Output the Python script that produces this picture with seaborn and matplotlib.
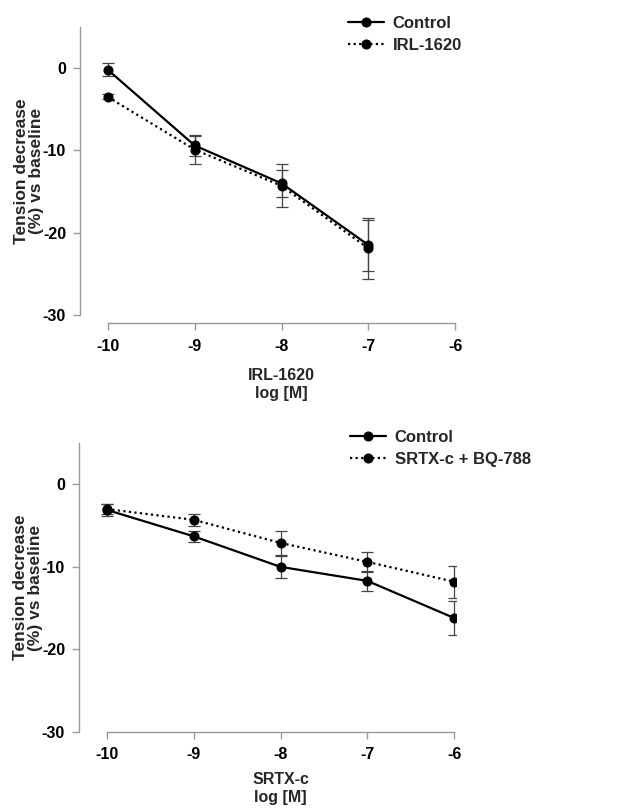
import numpy as np
import pandas as pd
import seaborn as sns
import matplotlib.pyplot as plt

# log concentrations
conc_irl = [-10, -9, -8, -7]
conc_srtx = [-10, -9, -8, -7, -6]

# panel A: IRL-1620
ctrl_a = [-0.2, -9.4, -14.0, -21.5]
ctrl_a_err = [0.8, 1.3, 1.6, 3.1]
irl_a = [-3.5, -9.9, -14.3, -21.9]
irl_a_err = [0.3, 1.7, 2.6, 3.7]

# panel B: SRTX-c
ctrl_b = [-3.1, -6.3, -10.0, -11.7, -16.2]
ctrl_b_err = [0.7, 0.7, 1.35, 1.25, 2.1]
bq_b = [-3.0, -4.3, -7.1, -9.4, -11.8]
bq_b_err = [0.6, 0.75, 1.5, 1.2, 1.95]

sns.set_style("ticks")
plt.rcParams['font.family'] = ['Liberation Sans', 'DejaVu Sans']
plt.rcParams['font.weight'] = 'bold'
plt.rcParams['axes.unicode_minus'] = False

fig = plt.figure(figsize=(6.18, 8.09), dpi=100)
W, H = 618, 809


def px_axes(left, top, right, bottom):
    return fig.add_axes([left / W, 1 - bottom / H, (right - left) / W, (bottom - top) / H])


def panel(ax, x, series, xlab, legend_xy, offset, xlab_y):
    rows = []
    for name, vals, err in series:
        for xi, v, e in zip(x, vals, err):
            rows.append(dict(conc=xi, val=v, err=e, group=name))
    df = pd.DataFrame(rows)
    names = [s[0] for s in series]
    for name, vals, err in series:
        ax.errorbar(x, vals, yerr=err, fmt='none', ecolor='#444444',
                    elinewidth=0.9, capsize=4, capthick=0.9, zorder=1)
    sns.lineplot(data=df, x='conc', y='val', hue='group', style='group',
                 hue_order=names, style_order=names,
                 palette=['black', 'black'], dashes=[(None, None), (1, 1.5)],
                 markers=['o', 'o'], markersize=6.5, markeredgecolor='black',
                 linewidth=1.6, ax=ax, zorder=3)
    ax.set_xlim(-10.32, -5.98)
    ax.set_ylim(-30, 5)
    ax.set_yticks([0, -10, -20, -30])
    ax.set_xticks([-10, -9, -8, -7, -6])
    ax.spines['bottom'].set_bounds(-10, -6)
    ax.spines['left'].set_bounds(-30, 5)
    ax.spines['bottom'].set_position(('outward', offset))
    for s in ['left', 'bottom']:
        ax.spines[s].set_color('#999999')
        ax.spines[s].set_linewidth(1.0)
    for s in ['top', 'right']:
        ax.spines[s].set_visible(False)
    ax.tick_params(colors='#999999', labelcolor='black', length=5, width=1.0,
                   labelsize=11.5)
    ax.tick_params(axis='x', pad=6)
    ax.tick_params(axis='y', pad=5)
    for lab in ax.get_xticklabels() + ax.get_yticklabels():
        lab.set_fontweight('bold')
    ax.set_ylabel('Tension decrease\n(%) vs baseline', fontsize=12.5,
                  fontweight='bold', linespacing=1.0)
    ax.yaxis.set_label_coords(-0.095, 0.5)
    ax.set_xlabel(xlab, fontsize=11.5, fontweight='bold', linespacing=1.25)
    ax.xaxis.set_label_coords(0.535, xlab_y)
    h, l = ax.get_legend_handles_labels()
    ax.legend(h, l, loc='upper left', bbox_to_anchor=legend_xy,
              bbox_transform=fig.transFigure, frameon=False,
              handlelength=2.2, handletextpad=0.5,
              labelspacing=0.45, borderaxespad=0,
              prop=dict(weight='bold', size=12))


ax1 = px_axes(80, 27, 457, 315)
panel(ax1, conc_irl,
      [('Control', ctrl_a, ctrl_a_err), ('IRL-1620', irl_a, irl_a_err)],
      'IRL-1620\nlog [M]', (341 / W, 1 - 9 / H), 6, -0.185)

ax2 = px_axes(79, 443, 456, 732)
panel(ax2, conc_srtx,
      [('Control', ctrl_b, ctrl_b_err), ('SRTX-c + BQ-788', bq_b, bq_b_err)],
      'SRTX-c\nlog [M]', (343 / W, 1 - 423 / H), 0, -0.14)

fig.savefig('out.png', dpi=100)
